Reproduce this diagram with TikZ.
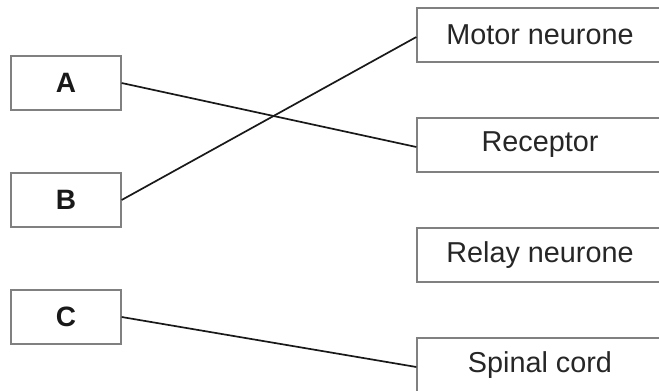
\documentclass[tikz,border=0pt]{standalone}
\usepackage{fontspec}
\setmainfont{Liberation Sans}
\begin{document}
\begin{tikzpicture}[x=1pt,y=-1pt,
  lbox/.style={draw=black!50, line width=1.3pt, minimum width=110pt, minimum height=54pt, inner sep=0pt, font=\fontsize{28}{30}\selectfont\bfseries, text=black!90},
  rbox/.style={draw=black!50, line width=1.3pt, minimum width=246pt, minimum height=54pt, inner sep=0pt, font=\fontsize{28.8}{30}\selectfont, text=black!85},
  link/.style={draw=black!90, line width=1.7pt}]
\useasboundingbox (0,0) rectangle (659,391);
\clip (0,0) rectangle (659,391);
\node[lbox] (A) at (66,83) {A};
\node[lbox] (B) at (66,200) {B};
\node[lbox] (C) at (66,317) {C};
\node[rbox] (M) at (540,35) {Motor neurone};
\node[rbox] (R) at (540,145) {Receptor};
\node[rbox] (L) at (540,255) {Relay neurone};
\node[rbox] (S) at (540,365) {Spinal cord};
\draw[link] (A.east) -- ([yshift=-2pt]R.west);
\draw[link] (B.east) -- ([yshift=-2pt]M.west);
\draw[link] (C.east) -- ([yshift=-2pt]S.west);
\end{tikzpicture}
\end{document}
